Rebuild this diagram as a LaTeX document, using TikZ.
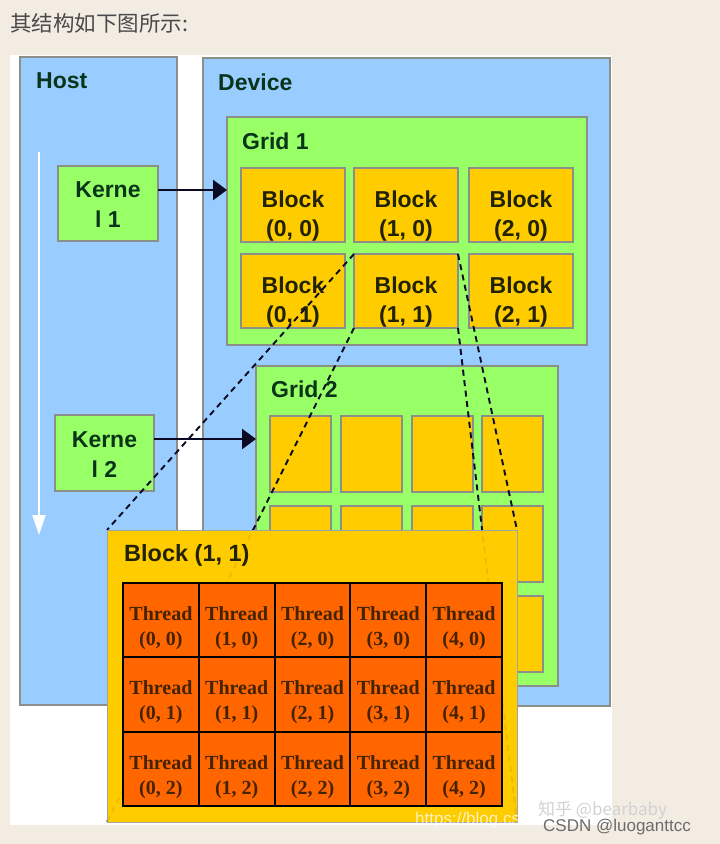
\documentclass[tikz,border=0pt]{standalone}
\usepackage{fontspec}
\setmainfont{Liberation Sans}
\newfontfamily\thrfont{Liberation Serif}
\newfontfamily\cjk{Noto Sans CJK SC}
\usetikzlibrary{arrows.meta}
\definecolor{bgbeige}{HTML}{F3ECE3}
\definecolor{hostblue}{HTML}{99CCFF}
\definecolor{gridgreen}{HTML}{99FF66}
\definecolor{blockyellow}{HTML}{FFCC00}
\definecolor{throrange}{HTML}{FF6600}
\definecolor{edgegray}{HTML}{8A8F8A}
\definecolor{lblgreen}{HTML}{083419}
\definecolor{blktext}{HTML}{222204}
\definecolor{thrtext}{HTML}{452300}
\definecolor{arrowdark}{HTML}{0A0A25}
\definecolor{headgray}{HTML}{4A4A4A}
\begin{document}
\begin{tikzpicture}[x=1pt,y=-1pt,
  rbox/.style={draw=edgegray,line width=1.5pt,anchor=north west,inner sep=0pt,outer sep=0pt},
  bigl/.style={font=\fontsize{23}{27}\selectfont\bfseries,text=lblgreen,anchor=base west,inner sep=0pt},
  blkl/.style={font=\fontsize{23}{27}\selectfont\bfseries,text=blktext,anchor=base,inner sep=0pt},
  kerl/.style={font=\fontsize{23}{27}\selectfont\bfseries,text=lblgreen,anchor=base,inner sep=0pt},
  thrl/.style={font=\fontsize{20}{24}\selectfont\thrfont\bfseries,text=thrtext,anchor=base,inner sep=0pt},
  karrow/.style={draw=arrowdark,line width=2.6pt,-{Triangle[width=20pt,length=14pt]}},
  dline/.style={draw=arrowdark,line width=1.9pt,dash pattern=on 6pt off 4.5pt}
]
\useasboundingbox (0,0) rectangle (720,844);
\fill[bgbeige] (0,0) rectangle (720,844);
% header
\node[font=\fontsize{21.5}{25}\selectfont\cjk,text=headgray,anchor=west,inner sep=0pt] (head) at (10,23) {其结构如下图所示:};
% white panel
\node[anchor=north west,fill=white,inner sep=0pt,minimum width=602pt,minimum height=770pt] (panel) at (10,55) {};
% host and device
\node[rbox,fill=hostblue,minimum width=157pt,minimum height=648pt] (host) at (20,57) {};
\node[rbox,fill=hostblue,minimum width=407pt,minimum height=648pt] (dev) at (203,58) {};
\node[bigl] (hostl) at (36,88) {Host};
\node[bigl] (devl) at (218,90.5) {Device};
% host time arrow
\coordinate (ts) at (39,152);
\coordinate (te) at (39,535);
\draw[white,line width=2.2pt,-{Triangle[width=13pt,length=20pt]}] (ts) -- (te);
% grid 1
\node[rbox,fill=gridgreen,minimum width=360pt,minimum height=228pt] (g1) at (227,117) {};
\node[bigl] (g1l) at (242,149) {Grid 1};
\foreach \c/\x in {0/241,1/354,2/469}{
  \foreach \r/\y in {0/168,1/254}{
    \node[rbox,fill=blockyellow,minimum width=104pt,minimum height=74pt] (b\c\r) at (\x,\y) {};
    \node[blkl] (b\c\r a) at ({\x+52},{\y+39}) {Block};
    \node[blkl] (b\c\r b) at ({\x+52},{\y+68}) {(\c, \r)};
  }
}
% grid 2
\node[rbox,fill=gridgreen,minimum width=302pt,minimum height=320pt] (g2) at (256,366) {};
\node[bigl] (g2l) at (271,397) {Grid 2};
\foreach \c/\x in {0/270,1/341,2/412,3/482}{
  \foreach \r/\y in {0/416,1/506,2/596}{
    \node[rbox,fill=blockyellow,minimum width=61pt,minimum height=76pt] (s\c\r) at (\x,\y) {};
  }
}
% kernels
\node[rbox,fill=gridgreen,minimum width=100pt,minimum height=75pt] (k1) at (58,166) {};
\node[kerl] (k1a) at (108,197) {Kerne};
\node[kerl] (k1b) at (108,227) {l 1};
\node[rbox,fill=gridgreen,minimum width=99pt,minimum height=76pt] (k2) at (55,415) {};
\node[kerl] (k2a) at (104.5,447) {Kerne};
\node[kerl] (k2b) at (104.5,477) {l 2};
\coordinate (a1) at ([yshift=13.5pt]k1.east);
\coordinate (a2) at ([yshift=14pt]k2.east);
\draw[karrow] (a1) -- (a1 -| g1.west);
\draw[karrow] (a2) -- (a2 -| g2.west);
% big block (1,1) corners
\path (107,530) coordinate (bbnw) (517,822) coordinate (bbse);
\path (bbnw -| bbse) coordinate (bbne) (bbnw |- bbse) coordinate (bbsw);
% dashed connectors
\draw[dline] (b11.north west) -- (bbnw);
\draw[dline] (b11.south west) -- (bbsw);
\draw[dline] (b11.north east) -- (bbne);
\draw[dline] (b11.south east) -- (bbse);
\node[rbox,draw=edgegray!80,line width=1pt,fill=blockyellow,minimum width=410pt,minimum height=292pt] (big) at (bbnw) {};
% faint show-through of the hidden connectors
\draw[dline,opacity=0.08] (b11.south west) -- (bbsw);
\draw[dline,opacity=0.08] (b11.south east) -- (bbse);
\node[font=\fontsize{23.5}{27}\selectfont\bfseries,text=blktext,anchor=base west,inner sep=0pt] (bigl) at (124,561) {Block (1, 1)};
\foreach \i in {0,...,4}{
  \foreach \j in {0,...,2}{
    \node[draw=black,line width=2pt,fill=throrange,anchor=north west,inner sep=0pt,outer sep=0pt,minimum width=75.8pt,minimum height=74.33pt] (t\i\j) at ({123+75.8*\i},{583+74.33*\j}) {};
    \node[thrl] (t\i\j a) at ({123+75.8*\i+37.9},{583+74.33*\j+37.5}) {Thread};
    \node[thrl] (t\i\j b) at ({123+75.8*\i+37.9},{583+74.33*\j+62.5}) {(\i, \j)};
  }
}
% watermarks
\node[font=\fontsize{17}{20}\selectfont\cjk,text=gray!35,anchor=base west,inner sep=0pt] (wm1) at (538,815) {知乎 @bearbaby};
\node[font=\fontsize{17}{20}\selectfont,text=white,opacity=0.75,anchor=base west,inner sep=0pt] (wm2) at (415,824) {https://blog.csd};
\node[font=\fontsize{17}{20}\selectfont,text=gray!85!black,anchor=base west,inner sep=0pt] (wm3) at (543,831) {CSDN @luoganttcc};
\end{tikzpicture}
\end{document}
